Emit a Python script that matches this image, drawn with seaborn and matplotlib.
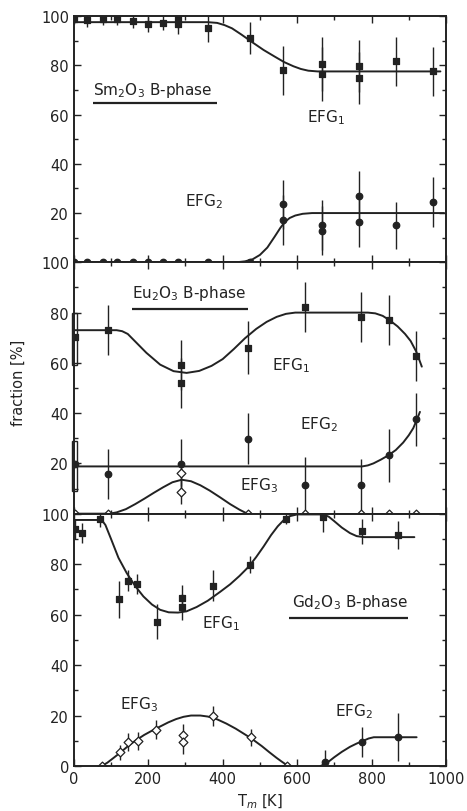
import numpy as np
import pandas as pd
import matplotlib
matplotlib.use("Agg")
import matplotlib.pyplot as plt
import seaborn as sns
from matplotlib.ticker import MultipleLocator

# ---------------- data ----------------
# Panel 1: Sm2O3 B-phase
sm_T1 = [0, 36, 78, 117, 158, 199, 240, 280, 280, 360, 473, 562, 667, 667, 766, 766, 865, 965]
sm_f1 = [98.8, 98.5, 98.8, 98.8, 98.1, 96.7, 97.2, 99.0, 96.7, 95.0, 91.0, 78.0, 80.5, 76.4, 79.8, 74.8, 81.6, 77.6]
sm_e1 = [2, 3, 2.5, 2.5, 3, 3, 3, 4, 4, 5.5, 6.5, 10, 11, 11, 10.5, 10.5, 10, 10]
sm_T2 = [0, 36, 78, 117, 158, 199, 240, 280, 360, 473, 562, 562, 667, 667, 766, 766, 865, 965]
sm_f2 = [0, 0, 0, 0, 0, 0, 0, 0, 0, 0, 23.6, 17.2, 15.2, 12.8, 27.0, 16.4, 15.0, 24.5]
sm_e2 = [0, 0, 0, 0, 0, 0, 0, 0, 0, 0, 10, 10, 10, 10, 10, 10, 9.5, 10]
sm_fit1_T = [0, 360, 385, 405, 425, 450, 480, 510, 540, 565, 590, 610, 630, 655, 985]
sm_fit1_f = [97.5, 97.5, 97.2, 96.3, 95.0, 92.5, 89.3, 86.2, 83.5, 81.3, 79.6, 78.5, 77.8, 77.5, 77.5]
sm_fit2_T = [0, 436, 460, 480, 500, 520, 540, 555, 568, 580, 595, 615, 640, 995]
sm_fit2_f = [0, 0, 0.4, 1.2, 3.0, 6.0, 10.5, 14.0, 16.5, 18.0, 19.0, 19.7, 20.0, 20.0]

# Panel 2: Eu2O3 B-phase
eu_T1 = [92, 288, 288, 467, 622, 771, 847, 919]
eu_f1 = [73.2, 59.2, 52.1, 66.0, 82.3, 78.3, 77.0, 62.8]
eu_e1 = [10, 10, 10, 10.5, 10, 10, 10, 10]
eu_T2 = [92, 288, 467, 622, 771, 847, 919]
eu_f2 = [15.9, 19.9, 29.9, 11.6, 11.6, 23.2, 37.6]
eu_e2 = [10, 10, 10, 11, 10, 10.5, 10.5]
eu_T3 = [3, 92, 288, 288, 467, 622, 771, 847, 919]
eu_f3 = [0, 0, 16.0, 8.7, 0, 0, 0, 0, 0]
eu_e3 = [0, 0, 5, 5, 0, 0, 0, 0, 0]
# lowest-temperature point: value and its box-shaped uncertainty range
eu_T0 = [3]
eu_f1_0 = [70.3]
eu_f2_0 = [19.6]
eu_box1 = [59, 80]
eu_box2 = [9, 29]
eu_fit1_T = [0, 115, 130, 145, 165, 195, 232, 268, 303, 337, 370, 400, 430, 460, 490, 518, 545, 570, 595,
             790, 810, 830, 850, 870, 890, 905, 920, 935]
eu_fit1_f = [73, 73, 72.6, 71.5, 68.5, 64, 59.3, 56.7, 56, 56.8, 58.8, 61.5, 65.5, 69.8, 73.5, 76.3, 78.3, 79.5, 80,
             80, 79.7, 78.7, 76.8, 74.5, 71.5, 68.7, 64.5, 58.5]
eu_fit2_T = [0, 775, 790, 805, 825, 845, 865, 885, 900, 912, 922, 930]
eu_fit2_f = [18.8, 18.8, 19.2, 20.0, 21.5, 23.2, 25.3, 28.3, 31.2, 34.0, 37.5, 40.5]
eu_fit3_T = [0, 95, 115, 140, 165, 190, 215, 240, 265, 290, 315, 340, 365, 393, 420, 445, 466]
eu_fit3_f = [0, 0, 0.5, 1.8, 3.8, 6.0, 8.3, 10.5, 12.5, 13.5, 12.9, 11.3, 9.2, 6.5, 3.8, 1.6, 0]

# Panel 3: Gd2O3 B-phase
gd_T1 = [3, 22, 70, 122, 146, 171, 223, 292, 292, 373, 473, 570, 670, 773, 872]
gd_f1 = [93.8, 92.4, 97.7, 66.0, 73.5, 72.2, 57.2, 66.7, 63.0, 71.5, 79.8, 98.0, 98.7, 93.0, 91.4]
gd_e1 = [4, 4, 3, 7.5, 4, 4, 7, 5, 5, 6, 3.5, 2, 6, 5, 5.5]
gd_T2 = [675, 773, 872]
gd_f2 = [1.5, 9.4, 11.6]
gd_e2 = [5, 6, 9.5]
gd_T3 = [75, 124, 146, 173, 222, 294, 294, 373, 475, 573]
gd_f3 = [0, 5.4, 9.6, 10.0, 14.4, 12.3, 9.4, 19.9, 11.3, 0]
gd_e3 = [0, 3, 3.5, 3.5, 3.7, 4.5, 4.5, 4, 3.3, 0]
gd_fit1_T = [0, 75, 85, 100, 120, 142, 165, 187, 210, 232, 255, 280, 303, 330, 360, 393, 420, 445, 470,
             490, 510, 530, 548, 565, 580, 600, 670, 685, 700, 720, 742, 760, 780, 915]
gd_fit1_f = [97.5, 97.5, 95.5, 90, 82.5, 76.5, 71.3, 67.2, 64, 61.9, 60.9, 60.8, 61.3, 63, 65.5, 69, 72, 75.3, 79,
             82.8, 87, 91.5, 95, 97.6, 99, 99.7, 99.7, 98.8, 97, 94.5, 92.3, 91.1, 90.7, 90.7]
gd_fit2_T = [663, 680, 700, 720, 742, 760, 778, 792, 806, 921]
gd_fit2_f = [0, 1.2, 3.5, 5.6, 7.6, 8.9, 10.0, 10.9, 11.4, 11.4]
gd_fit3_T = [75, 90, 105, 124, 145, 165, 189, 210, 230, 254, 275, 295, 315, 340, 360, 385, 410, 435, 460,
             480, 505, 525, 545, 560, 574]
gd_fit3_f = [0, 1.3, 3, 5.2, 7.8, 10, 12.3, 14, 15.5, 17.3, 18.6, 19.5, 20, 20, 19.6, 18.5, 16.8, 14.8, 12.5,
             10.6, 7.9, 5.5, 3.2, 1.6, 0.2]

# text labels (panel, text, x, y) and title underlines (panel, x0, x1, y)
labels = [
    (0, "Sm$_2$O$_3$ B-phase", 52, 70.3),
    (0, "EFG$_1$", 626, 59.0),
    (0, "EFG$_2$", 299, 25.0),
    (1, "Eu$_2$O$_3$ B-phase", 156, 87.9),
    (1, "EFG$_1$", 532, 59.2),
    (1, "EFG$_2$", 608, 35.9),
    (1, "EFG$_3$", 446, 11.6),
    (2, "Gd$_2$O$_3$ B-phase", 585, 65.2),
    (2, "EFG$_1$", 344, 57.0),
    (2, "EFG$_3$", 124, 24.9),
    (2, "EFG$_2$", 702, 22.0),
]
underlines = [(0, 52, 385, 64.5), (1, 156, 469, 81.5), (2, 579, 898, 58.6)]

x_ticks = [0, 200, 400, 600, 800, 1000]
y_ticks = [0, 20, 40, 60, 80, 100]

# ---------------- plotting ----------------
sns.set_style("ticks")
plt.rcParams["font.family"] = ["DejaVu Sans"]
INK = "#222222"

fig = plt.figure(figsize=(4.67, 8.12), dpi=100)
gs = fig.add_gridspec(3, 1, height_ratios=[246, 251, 252], hspace=0,
                      left=73.8 / 467, right=446 / 467, top=1 - 17 / 812, bottom=1 - 767 / 812)
axes = [fig.add_subplot(gs[i]) for i in range(3)]


def pts(ax, T, f, e, marker, face, s):
    ax.errorbar(T, f, yerr=e, fmt="none", ecolor=INK, elinewidth=1.0, capsize=0, zorder=2)
    sns.scatterplot(x=T, y=f, ax=ax, marker=marker, s=s, color=face, edgecolor=INK,
                    linewidth=0.9, zorder=4, legend=False)


def fit(ax, T, f):
    sns.lineplot(x=T, y=f, ax=ax, color=INK, lw=1.4, sort=False, estimator=None, zorder=3,
                 solid_joinstyle="round", solid_capstyle="round")


ax1, ax2, ax3 = axes
# Panel 1
fit(ax1, sm_fit1_T, sm_fit1_f)
fit(ax1, sm_fit2_T, sm_fit2_f)
pts(ax1, sm_T1, sm_f1, sm_e1, "s", INK, 22)
pts(ax1, sm_T2, sm_f2, sm_e2, "o", INK, 22)
# Panel 2
fit(ax2, eu_fit1_T, eu_fit1_f)
fit(ax2, eu_fit2_T, eu_fit2_f)
fit(ax2, eu_fit3_T, eu_fit3_f)
ax2.bar(eu_T0, [eu_box1[1] - eu_box1[0]], bottom=[eu_box1[0]], width=13, fill=False,
        edgecolor=INK, linewidth=1.0, clip_on=False, zorder=2)
ax2.bar(eu_T0, [eu_box2[1] - eu_box2[0]], bottom=[eu_box2[0]], width=13, fill=False,
        edgecolor=INK, linewidth=1.0, clip_on=False, zorder=2)
pts(ax2, eu_T1, eu_f1, eu_e1, "s", INK, 22)
pts(ax2, eu_T0, eu_f1_0, [0], "s", INK, 22)
pts(ax2, eu_T2, eu_f2, eu_e2, "o", INK, 22)
pts(ax2, eu_T0, eu_f2_0, [0], "o", INK, 22)
pts(ax2, eu_T3, eu_f3, eu_e3, "D", "white", 20)
# Panel 3
fit(ax3, gd_fit1_T, gd_fit1_f)
fit(ax3, gd_fit2_T, gd_fit2_f)
fit(ax3, gd_fit3_T, gd_fit3_f)
pts(ax3, gd_T1, gd_f1, gd_e1, "s", INK, 22)
pts(ax3, gd_T2, gd_f2, gd_e2, "o", INK, 22)
pts(ax3, gd_T3, gd_f3, gd_e3, "D", "white", 20)

for p, txt, x, y in labels:
    axes[p].text(x, y, txt, ha="left", va="center", fontsize=11, color=INK, zorder=5)
for p, x0, x1, y in underlines:
    axes[p].hlines(y, x0, x1, color=INK, lw=1.6)

for i, ax in enumerate(axes):
    ax.set_xlim(0, 1000)
    ax.set_ylim(0, 100)
    ax.set_xticks(x_ticks)
    ax.set_yticks(y_ticks)
    ax.xaxis.set_minor_locator(MultipleLocator(100))
    ax.yaxis.set_minor_locator(MultipleLocator(10))
    ax.tick_params(which="both", direction="in", top=True, right=True, color=INK,
                   labelcolor=INK, labelsize=10.5, width=1.0)
    ax.tick_params(which="major", length=5)
    ax.tick_params(which="minor", length=3)
    for sp in ax.spines.values():
        sp.set_linewidth(1.4)
        sp.set_color(INK)
        sp.set_zorder(6)
    ax.set_xlabel("")
    ax.set_ylabel("")
    if i < 2:
        ax.set_xticklabels([])
        ax.set_yticklabels([""] + [str(t) for t in y_ticks[1:]])

ax3.set_xlabel("T$_m$ [K]", fontsize=10.5, color=INK, labelpad=4)
fig.text(18 / 467, 1 - 383 / 812, "fraction [%]", rotation=90, ha="center", va="center",
         fontsize=10.5, color=INK)

fig.savefig("out.png", dpi=100)
